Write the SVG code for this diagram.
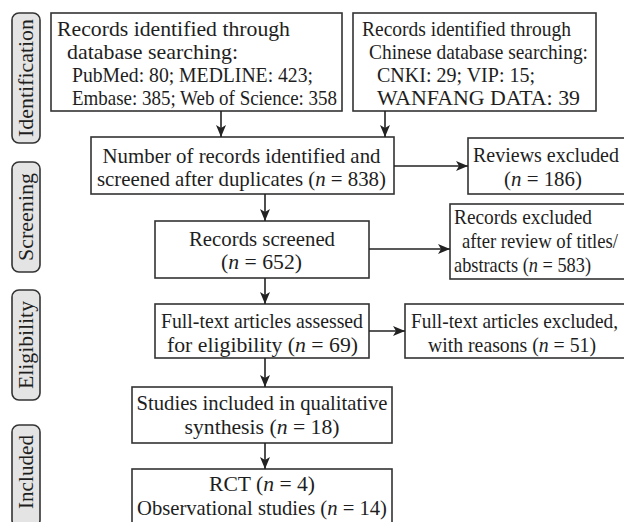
<svg xmlns="http://www.w3.org/2000/svg" width="624" height="522" viewBox="0 0 624 522">
<defs>
<marker id="ah" viewBox="0 0 12 10" refX="12" refY="5" markerWidth="12" markerHeight="10" markerUnits="userSpaceOnUse" orient="auto">
<path d="M0,0 L12,5 L0,10 L3,5 Z" fill="#222"/>
</marker>
</defs>
<style>
.box{fill:#fff;stroke:#333;stroke-width:1.6}
.lab{fill:#e4e4e4;stroke:#333;stroke-width:1.6}
text{font-family:"Liberation Serif","Times New Roman",serif;font-size:21.5px;fill:#1e1e1e}
.c{text-anchor:middle}
.ln{stroke:#222;stroke-width:1.6;fill:none;marker-end:url(#ah)}
</style>
<rect width="624" height="522" fill="#fff"/>
<g id="stage-identification"><rect class="lab" x="12" y="13" width="28" height="130" rx="7"/><text class="c" transform="translate(33,78) rotate(-90)" textLength="118" lengthAdjust="spacingAndGlyphs">Identification</text></g>
<g id="stage-screening"><rect class="lab" x="12" y="162" width="28" height="110" rx="7"/><text class="c" transform="translate(33,217) rotate(-90)" textLength="88" lengthAdjust="spacingAndGlyphs">Screening</text></g>
<g id="stage-eligibility"><rect class="lab" x="12" y="290" width="28" height="110" rx="7"/><text class="c" transform="translate(33,345) rotate(-90)" textLength="88" lengthAdjust="spacingAndGlyphs">Eligibility</text></g>
<g id="stage-included"><rect class="lab" x="12" y="425" width="28" height="102" rx="7"/><text class="c" transform="translate(33,472) rotate(-90)" textLength="74" lengthAdjust="spacingAndGlyphs">Included</text></g>

<g id="n-db"><rect class="box" x="51" y="13" width="291" height="98"/>
<text x="57" y="36" textLength="233" lengthAdjust="spacingAndGlyphs">Records identified through</text>
<text x="67" y="59" textLength="171" lengthAdjust="spacingAndGlyphs">database searching:</text>
<text x="72" y="82" textLength="241" lengthAdjust="spacingAndGlyphs">PubMed: 80; MEDLINE: 423;</text>
<text x="72" y="105" textLength="265" lengthAdjust="spacingAndGlyphs">Embase: 385; Web of Science: 358</text></g>

<g id="n-cdb"><rect class="box" x="353" y="13" width="243" height="98"/>
<text x="362" y="36" textLength="209" lengthAdjust="spacingAndGlyphs">Records identified through</text>
<text x="369" y="59" textLength="219" lengthAdjust="spacingAndGlyphs">Chinese database searching:</text>
<text x="377" y="82" textLength="158" lengthAdjust="spacingAndGlyphs">CNKI: 29; VIP: 15;</text>
<text x="377" y="105" textLength="203" lengthAdjust="spacingAndGlyphs">WANFANG DATA: 39</text></g>

<g id="n-dup"><rect class="box" x="91" y="137" width="303" height="57"/>
<text class="c" x="241.5" y="163" textLength="278" lengthAdjust="spacingAndGlyphs">Number of records identified and</text>
<text class="c" x="241.5" y="186" textLength="289" lengthAdjust="spacingAndGlyphs">screened after duplicates (<tspan font-style="italic">n</tspan> = 838)</text></g>

<g id="n-rev"><rect class="box" x="468" y="138" width="162" height="56"/>
<text x="473" y="162" textLength="146" lengthAdjust="spacingAndGlyphs">Reviews excluded</text>
<text class="c" x="543" y="186" textLength="78" lengthAdjust="spacingAndGlyphs">(<tspan font-style="italic">n</tspan> = 186)</text></g>

<g id="n-scr"><rect class="box" x="155" y="221" width="214" height="57"/>
<text class="c" x="262" y="246" textLength="146" lengthAdjust="spacingAndGlyphs">Records screened</text>
<text class="c" x="261.5" y="269" textLength="81" lengthAdjust="spacingAndGlyphs">(<tspan font-style="italic">n</tspan> = 652)</text></g>

<g id="n-exc"><rect class="box" x="450" y="204" width="180" height="75"/>
<text x="454" y="224" textLength="138" lengthAdjust="spacingAndGlyphs">Records excluded</text>
<text x="462" y="248" textLength="156" lengthAdjust="spacingAndGlyphs">after review of titles/</text>
<text x="454" y="272" textLength="137" lengthAdjust="spacingAndGlyphs">abstracts (<tspan font-style="italic">n</tspan> = 583)</text></g>

<g id="n-ft"><rect class="box" x="155" y="304" width="214" height="54"/>
<text class="c" x="262" y="328" textLength="202" lengthAdjust="spacingAndGlyphs">Full-text articles assessed</text>
<text class="c" x="262.5" y="352" textLength="191" lengthAdjust="spacingAndGlyphs">for eligibility (<tspan font-style="italic">n</tspan> = 69)</text></g>

<g id="n-ftx"><rect class="box" x="405" y="304" width="225" height="54"/>
<text x="411" y="328" textLength="207" lengthAdjust="spacingAndGlyphs">Full-text articles excluded,</text>
<text class="c" x="512" y="352" textLength="168" lengthAdjust="spacingAndGlyphs">with reasons (<tspan font-style="italic">n</tspan> = 51)</text></g>

<g id="n-qual"><rect class="box" x="132" y="387" width="260" height="56"/>
<text class="c" x="262" y="410" textLength="251" lengthAdjust="spacingAndGlyphs">Studies included in qualitative</text>
<text class="c" x="262" y="434" textLength="155" lengthAdjust="spacingAndGlyphs">synthesis (<tspan font-style="italic">n</tspan> = 18)</text></g>

<g id="n-fin"><rect class="box" x="132" y="469" width="260" height="60"/>
<text class="c" x="262" y="491" textLength="106" lengthAdjust="spacingAndGlyphs">RCT (<tspan font-style="italic">n</tspan> = 4)</text>
<text class="c" x="262" y="515" textLength="250" lengthAdjust="spacingAndGlyphs">Observational studies (<tspan font-style="italic">n</tspan> = 14)</text></g>

<g id="connectors">
<line class="ln" x1="221" y1="111" x2="221" y2="137"/>
<line class="ln" x1="385" y1="111" x2="385" y2="137"/>
<line class="ln" x1="394" y1="166" x2="468" y2="166"/>
<line class="ln" x1="265" y1="194" x2="265" y2="221"/>
<line class="ln" x1="369" y1="249" x2="450" y2="249"/>
<line class="ln" x1="265" y1="278" x2="265" y2="304"/>
<line class="ln" x1="369" y1="331" x2="405" y2="331"/>
<line class="ln" x1="265" y1="358" x2="265" y2="387"/>
<line class="ln" x1="265" y1="443" x2="265" y2="469"/>
</g>
</svg>
